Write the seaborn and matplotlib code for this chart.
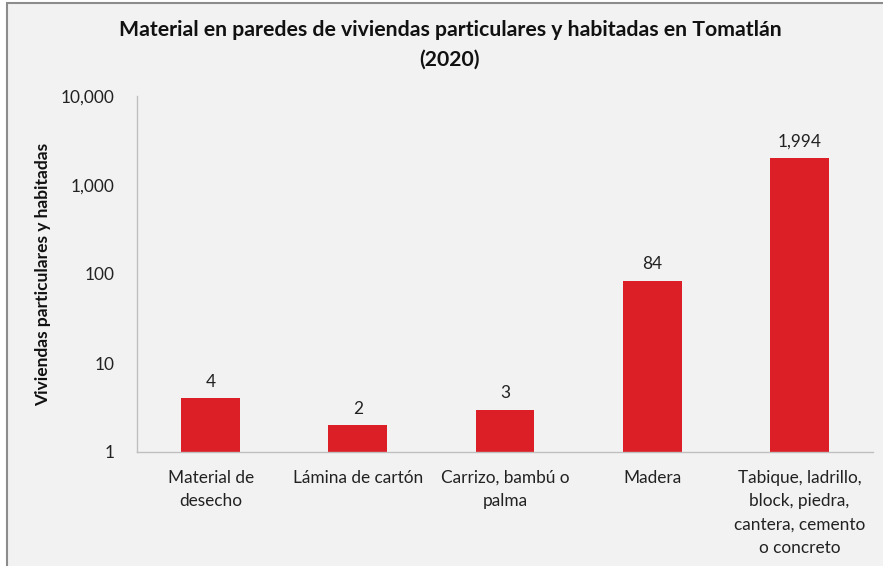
import matplotlib
matplotlib.use("Agg")
import matplotlib.pyplot as plt
import matplotlib.ticker as mticker
import seaborn as sns
import pandas as pd

categories = ["Material de\ndesecho", "Lámina de cartón", "Carrizo, bambú o\npalma",
              "Madera", "Tabique, ladrillo,\nblock, piedra,\ncantera, cemento\no concreto"]
values = [4, 2, 3, 84, 1994]
title = "Material en paredes de viviendas particulares y habitadas en Tomatlán\n(2020)"
ylabel = "Viviendas particulares y habitadas"

sns.set_style("white")
plt.rcParams['font.family'] = ['Lato', 'DejaVu Sans']

bg = "#F2F2F2"
W, H = 883, 566
fig = plt.figure(figsize=(W/100, H/100), dpi=100, facecolor="white")

# panel background with border on left/top only (extends past right/bottom)
panel = plt.Rectangle((7/W, -0.05), 1.1, 1 - 3/H + 0.05, transform=fig.transFigure,
                      facecolor=bg, edgecolor="#8C8C8C", linewidth=1.5, zorder=-10)
fig.add_artist(panel)

ax = fig.add_axes([137/W, 1-452/H, (873-137)/W, (452-96)/H])
ax.set_facecolor(bg)
ax.patch.set_alpha(0)

df = pd.DataFrame({"cat": categories, "val": values})
sns.barplot(data=df, x="cat", y="val", color="#DC1F26", width=0.4, ax=ax,
            saturation=1, edgecolor="none")
ax.set_yscale("log")
ax.set_ylim(1, 10000)
ax.set_xlim(-0.5, 4.5)
ax.yaxis.set_major_locator(mticker.FixedLocator([1, 10, 100, 1000, 10000]))
ax.yaxis.set_minor_locator(mticker.NullLocator())
ax.yaxis.set_major_formatter(mticker.FuncFormatter(lambda v, p: f"{int(v):,}"))

for i, v in enumerate(values):
    ax.annotate(f"{v:,}", (i, v), xytext=(0, 6), textcoords="offset points",
                ha="center", va="bottom", fontsize=12.4, color="#222222")

for s in ["top", "right"]:
    ax.spines[s].set_visible(False)
for s in ["left", "bottom"]:
    ax.spines[s].set_color("#BFBFBF")
    ax.spines[s].set_linewidth(1)
ax.tick_params(axis="both", length=0, labelsize=12.4, colors="#222222")
ax.tick_params(axis="x", pad=13)
ax.tick_params(axis="y", pad=16)
ax.set_xlabel("")
ax.set_ylabel(ylabel, fontsize=12.5, fontweight="bold", color="#111111", labelpad=7)
for lbl in ax.get_xticklabels():
    lbl.set_linespacing(1.55)

fig.text(450/W, 1-45/H, title, ha="center", va="center", fontsize=15.3,
         fontweight="bold", color="#111111", linespacing=1.6)

fig.savefig("out.png", dpi=100, facecolor="white")
